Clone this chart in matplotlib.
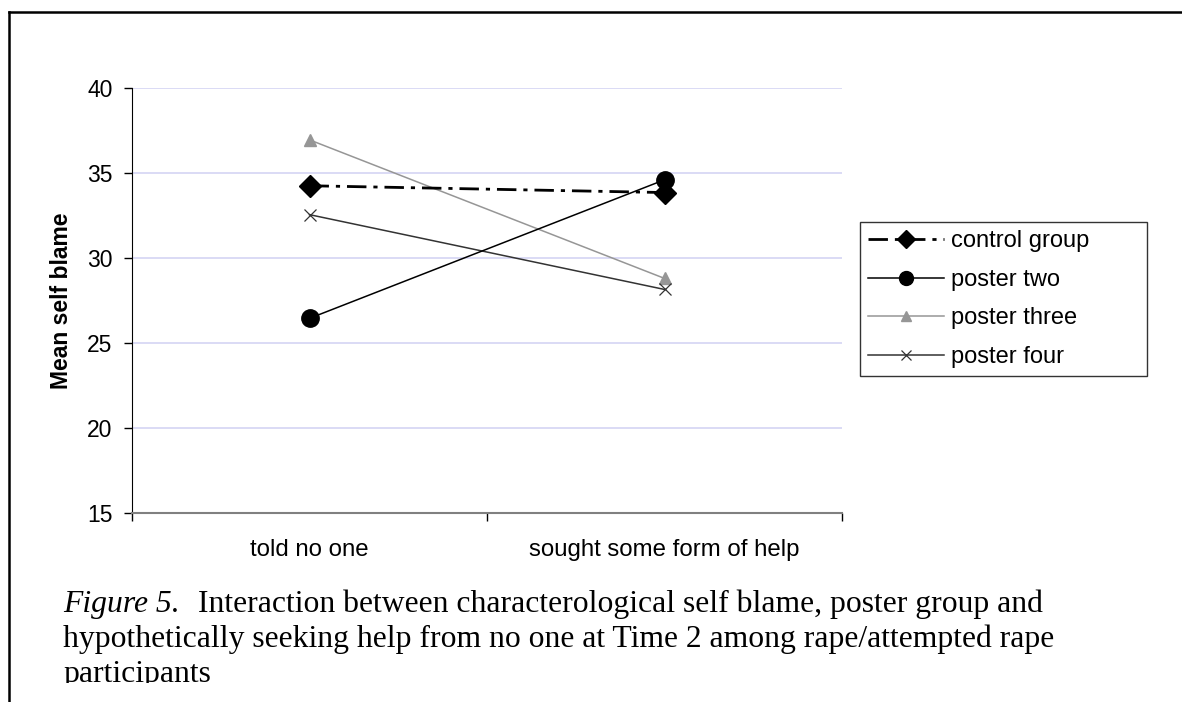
import matplotlib
matplotlib.use("Agg")
import matplotlib.pyplot as plt
from matplotlib.lines import Line2D
from matplotlib.patches import Rectangle

categories = ["told no one", "sought some form of help"]
series_names = ["control group", "poster two", "poster three", "poster four"]
control_group = [34.25, 33.85]
poster_two = [26.45, 34.6]
poster_three = [36.95, 28.8]
poster_four = [32.55, 28.15]
y_ticks = [15, 20, 25, 30, 35, 40]

W, H = 1182, 702
fig = plt.figure(figsize=(W / 100, H / 100), dpi=100)
fig.patch.set_facecolor("white")

# page border lines
fig.add_artist(Line2D([9 / W, 1], [1 - 12 / H, 1 - 12 / H], color="black", lw=1.8, transform=fig.transFigure))
fig.add_artist(Line2D([9 / W, 9 / W], [0, 1 - 12 / H], color="black", lw=1.8, transform=fig.transFigure))

ax = fig.add_axes([132 / W, 1 - 513 / H, (842 - 132) / W, (513 - 88) / H])
x = [0.5, 1.5]
sans = "Liberation Sans"
fs_ax = 16.5

ax.plot(x, control_group, color="black", lw=2.0, ls=(0, (7, 2.5, 1.5, 2.5)), marker="D", ms=11,
        mfc="black", mec="black", label=series_names[0], zorder=4)
ax.plot(x, poster_two, color="black", lw=1.1, marker="o", ms=12.5,
        mfc="black", mec="black", label=series_names[1], zorder=5)
ax.plot(x, poster_three, color="#969696", lw=1.1, marker="^", ms=9,
        mfc="#969696", mec="#969696", label=series_names[2], zorder=3)
ax.plot(x, poster_four, color="#333333", lw=1.1, marker="x", ms=9, mew=0.9,
        mfc="#333333", mec="#333333", label=series_names[3], zorder=3)

ax.set_xlim(0, 2)
ax.set_ylim(15, 40)
ax.set_yticks(y_ticks)
ax.set_yticklabels([str(t) for t in y_ticks], fontsize=fs_ax, family=sans)
ax.yaxis.grid(True, color="#d4d4f4", lw=1.2)
ax.set_axisbelow(True)
ax.set_xticks([0, 1, 2])
ax.set_xticklabels([])
ax.tick_params(axis="x", direction="out", length=6, width=1, color="black")
ax.tick_params(axis="y", direction="out", length=6, width=1, color="black", pad=8)
for xi, c in zip(x, categories):
    ax.text(xi, -0.062, c, transform=ax.get_xaxis_transform(), ha="center", va="top",
            fontsize=17.3, family=sans)
ax.spines["top"].set_visible(False)
ax.spines["right"].set_visible(False)
ax.spines["left"].set_color("black")
ax.spines["bottom"].set_color("#808080")
ax.spines["bottom"].set_linewidth(1.5)
ax.set_ylabel("Mean self blame", fontsize=fs_ax, fontweight="bold", family=sans, labelpad=10)

leg = fig.legend(loc="upper left",
                 bbox_to_anchor=(860 / W, 1 - 378 / H, (1147 - 860) / W, (378 - 222) / H),
                 mode="expand", frameon=True, markerscale=0.8,
                 fancybox=False, edgecolor="black", prop={"family": sans, "size": 17},
                 handlelength=3.2, borderpad=0.35, labelspacing=0.7, handletextpad=0.3,
                 borderaxespad=0)
leg.get_frame().set_linewidth(1.0)

serif = "Liberation Serif"
fs = 22.8
fig.text(63 / W, 1 - 612 / H, "Figure 5.", fontsize=fs, family=serif, style="italic", va="baseline")
fig.text(198 / W, 1 - 612 / H, "Interaction between characterological self blame, poster group and",
         fontsize=fs, family=serif, va="baseline")
fig.text(63 / W, 1 - 647 / H, "hypothetically seeking help from no one at Time 2 among rape/attempted rape",
         fontsize=fs, family=serif, va="baseline")
fig.text(63 / W, 1 - 682 / H, "participants", fontsize=fs, family=serif, va="baseline")

# the page is cut off just below the last caption line
fig.add_artist(Rectangle((12 / W, 0), 1, (702 - 683) / H, transform=fig.transFigure,
                         facecolor="white", edgecolor="none", zorder=10))

fig.savefig("out.png", dpi=100, facecolor="white")
